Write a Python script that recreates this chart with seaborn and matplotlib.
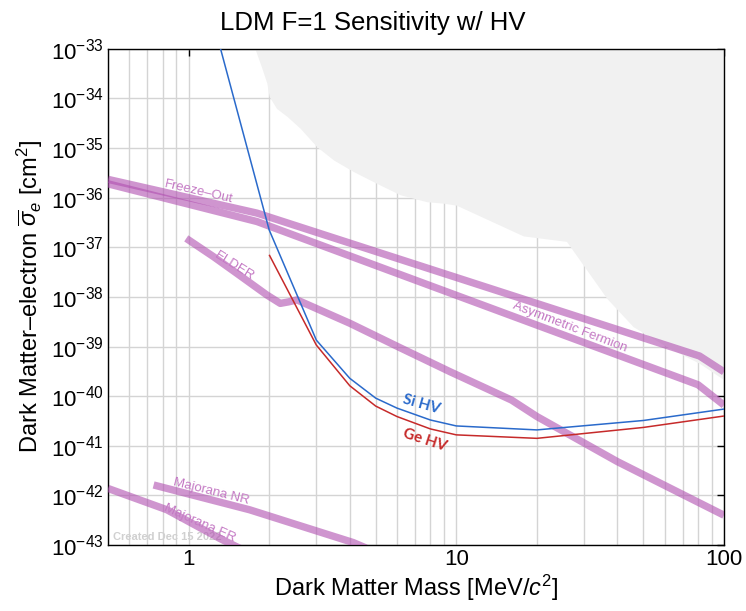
import numpy as np
import pandas as pd
import matplotlib
matplotlib.use("Agg")
import matplotlib.pyplot as plt
import seaborn as sns
from matplotlib.ticker import (LogLocator, NullFormatter, FixedLocator, FixedFormatter,
                               NullLocator, LogFormatterSciNotation)

# ---------------- data (log10 of cross-section) ----------------
si_mass = [1.0, 2.0, 3.0, 4.0, 5.0, 6.0, 8.0, 10.0, 20.0, 50.0, 100.0]
si_logsig = [-30.6, -36.65, -38.87, -39.64, -40.04, -40.24, -40.48, -40.60, -40.68, -40.49, -40.26]

ge_mass = [2.0, 3.0, 4.0, 5.0, 6.0, 8.0, 10.0, 20.0, 50.0, 100.0]
ge_logsig = [-37.15, -38.97, -39.79, -40.20, -40.41, -40.66, -40.78, -40.85, -40.63, -40.40]

freeze_mass = [0.5, 1.8, 81.0, 100.0]
freeze_logsig = [-35.63, -36.31, -39.19, -39.51]

asym_mass = [0.5, 1.8, 80.0, 100.0]
asym_logsig = [-35.72, -36.48, -39.77, -40.18]

elder_mass = [0.98, 1.24, 1.51, 1.96, 2.20, 2.36, 2.54, 4.0, 6.2, 9.5, 16.1, 20.0, 40.0, 100.0]
elder_logsig = [-36.82, -37.19, -37.52, -37.96, -38.13, -38.10, -38.06, -38.53, -39.03, -39.51,
                -40.08, -40.41, -41.32, -42.40]

majNR_mass = [0.74, 1.69, 4.12, 4.6]
majNR_logsig = [-41.79, -42.29, -42.95, -43.06]

majER_mass = [0.5, 0.83, 1.31, 1.6]
majER_logsig = [-41.86, -42.29, -42.87, -43.1]

excl_mass = [1.77, 1.87, 1.96, 2.0, 2.13, 2.33, 2.61, 3.01, 3.48, 4.12, 5.04, 6.17, 7.75, 8.95,
             10.0, 17.8, 25.8, 36.5, 45.8, 61.0, 81.0, 100.0]
excl_logsig = [-33.0, -33.36, -33.69, -33.96, -34.20, -34.36, -34.60, -34.97, -35.24, -35.47,
               -35.71, -35.94, -36.08, -36.11, -36.15, -36.77, -36.88, -38.03, -38.60, -39.0,
               -39.34, -39.67]

x_ticks = [1, 10, 100]
x_ticklabels = ["1", "10", "100"]
y_tick_exponents = [-43, -42, -41, -40, -39, -38, -37, -36, -35, -34, -33]

# ---------------- style ----------------
sns.set_style("white")
plt.rcParams['font.family'] = ['Liberation Sans', 'DejaVu Sans']
plt.rcParams['mathtext.fontset'] = 'custom'
plt.rcParams['mathtext.rm'] = 'Liberation Sans'
plt.rcParams['mathtext.it'] = 'Liberation Sans:italic'
plt.rcParams['mathtext.bf'] = 'Liberation Sans:bold'
plt.rcParams['text.color'] = 'black'
plt.rcParams['axes.labelcolor'] = 'black'
plt.rcParams['xtick.color'] = 'black'
plt.rcParams['ytick.color'] = 'black'

PURPLE = '#b04fb0'
BLUE = '#2a6acb'
RED = '#c62a2a'

fig = plt.figure(figsize=(7.46, 6.11), dpi=100)
ax = fig.add_axes([0.1448, 0.108, 0.8257, 0.812])

def tolin(v):
    return 10.0 ** np.asarray(v, dtype=float)

# excluded region
ax.fill_between(excl_mass, tolin(excl_logsig), 1e-33, color='#f1f1f1', lw=0, zorder=1)

def line(m, s, color, lw, alpha=1.0):
    df = pd.DataFrame({'mass': m, 'sigma': tolin(s)})
    sns.lineplot(data=df, x='mass', y='sigma', ax=ax, color=color, lw=lw, alpha=alpha,
                 sort=False, estimator=None, zorder=3, solid_capstyle='butt')

for m, s in [(freeze_mass, freeze_logsig), (asym_mass, asym_logsig), (elder_mass, elder_logsig),
             (majNR_mass, majNR_logsig), (majER_mass, majER_logsig)]:
    line(m, s, PURPLE, 5.3, 0.6)

line(si_mass, si_logsig, BLUE, 1.1)
line(ge_mass, ge_logsig, RED, 1.1)

ax.set_xscale('log')
ax.set_yscale('log')
ax.set_xlim(0.5, 100)
ax.set_ylim(1e-43, 1e-33)

ax.yaxis.set_major_locator(FixedLocator(tolin(y_tick_exponents)))
ax.yaxis.set_major_formatter(LogFormatterSciNotation())
ax.yaxis.set_minor_locator(NullLocator())
ax.xaxis.set_major_locator(FixedLocator(x_ticks))
ax.xaxis.set_major_formatter(FixedFormatter(x_ticklabels))
ax.xaxis.set_minor_locator(LogLocator(base=10, subs=np.arange(2, 10), numticks=15))
ax.xaxis.set_minor_formatter(NullFormatter())

ax.set_axisbelow(True)
ax.grid(True, which='major', color='#d4d4d4', lw=1.0)
ax.grid(True, which='minor', axis='x', color='#d4d4d4', lw=1.0)
ax.tick_params(which='major', direction='in', top=True, right=True, length=5, width=1,
               labelsize=16, color='black', labelcolor='black', pad=3)
ax.tick_params(which='minor', length=0)
for sp in ax.spines.values():
    sp.set_color('black')
    sp.set_linewidth(1.0)

ax.set_xlabel('Dark Matter Mass [MeV/$c^2$]', fontsize=17, labelpad=2, color='black')
ax.set_ylabel('Dark Matter–electron $\\overline{\\sigma}_e$ [cm$^2$]', fontsize=17, labelpad=4,
              color='black')
fig.text(0.5, 0.962, 'LDM F=1 Sensitivity w/ HV', ha='center', va='center', fontsize=18.5,
         color='black')

# labels
lab_col = '#c479c4'
ax.text(1.09, 10**-35.88, 'Freeze–Out', color=lab_col, fontsize=9.5, rotation=-13,
        ha='center', va='center', zorder=4)
ax.text(1.48, 10**-37.39, 'ELDER', color=lab_col, fontsize=9.5, rotation=-32,
        ha='center', va='center', zorder=4)
ax.text(26.6, 10**-38.60, 'Asymmetric Fermion', color=lab_col, fontsize=9.5, rotation=-21,
        ha='center', va='center', zorder=4)
ax.text(1.21, 10**-41.93, 'Majorana NR', color=lab_col, fontsize=9.5, rotation=-14,
        ha='center', va='center', zorder=4)
ax.text(1.10, 10**-42.55, 'Majorana ER', color=lab_col, fontsize=9.5, rotation=-24,
        ha='center', va='center', zorder=4)
ax.text(7.43, 10**-40.16, 'Si HV', color=BLUE, fontsize=11, rotation=-16, fontweight='bold',
        family=['Lato', 'DejaVu Sans'], ha='center', va='center', zorder=4)
ax.text(7.64, 10**-40.88, 'Ge HV', color=RED, fontsize=11, rotation=-18, fontweight='bold',
        family=['Lato', 'DejaVu Sans'], ha='center', va='center', zorder=4)
ax.text(0.52, 10**-42.9, 'Created Dec 15 2022', color='#d0d0d0', fontsize=8,
        fontweight='bold', ha='left', va='baseline', zorder=2)

fig.savefig('out.png', dpi=100)
